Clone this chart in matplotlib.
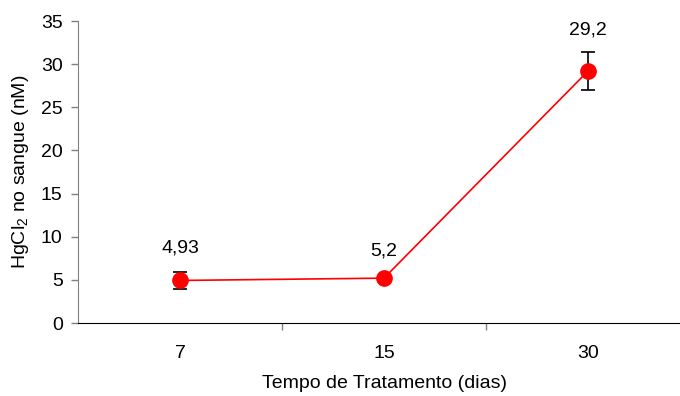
import matplotlib
matplotlib.use("Agg")
import matplotlib.pyplot as plt
import numpy as np

plt.rcParams['font.family'] = ['Liberation Sans', 'DejaVu Sans']
plt.rcParams['mathtext.fontset'] = 'custom'
plt.rcParams['mathtext.rm'] = 'Liberation Sans'
plt.rcParams['mathtext.it'] = 'Liberation Sans'

# Treatment time (days) and blood HgCl2 concentration (nM)
dias = ['7', '15', '30']
concentracao = [4.93, 5.2, 29.2]
erro = [1.0, 0.3, 2.15]
rotulos = ['4,93', '5,2', '29,2']

FS = 14

fig = plt.figure(figsize=(6.8, 3.96), dpi=100)
ax = fig.add_axes([78/680, 73/396, 612/680, 302/396])

x = np.arange(len(dias))
ax.errorbar(x, concentracao, yerr=erro, fmt='none', ecolor='black',
            elinewidth=1.2, capsize=5, capthick=1.2, zorder=2)
ax.plot(x, concentracao, color='#ff0000', lw=1.2, marker='o', ms=11,
        markerfacecolor='#ff0000', markeredgecolor='#ff0000', zorder=3)

# value labels sit above each point, pushed up a bit further by its error bar
for xi, yi, ei, txt in zip(x, concentracao, erro, rotulos):
    ax.annotate(txt, (xi, yi + 0.9 * ei), xytext=(0, 14.5),
                textcoords='offset points', ha='center', va='baseline',
                fontsize=FS)

ax.set_xlim(-0.5, len(dias) - 0.5)
ax.set_ylim(0, 35)
ax.set_yticks(np.arange(0, 36, 5))
ax.set_xticks(x)
ax.set_xticklabels(dias)
ax.set_xticks(np.arange(0.5, len(dias) - 0.5, 1), minor=True)

ax.tick_params(axis='y', direction='out', length=5, width=1, colors='#808080',
               labelcolor='black', labelsize=FS, pad=6)
ax.tick_params(axis='x', which='major', length=0, labelsize=FS, pad=16)
ax.tick_params(axis='x', which='minor', direction='out', length=5, width=1,
               color='#808080')

for s in ['top', 'right']:
    ax.spines[s].set_visible(False)
ax.spines['left'].set_color('#808080')
ax.spines['bottom'].set_color('black')

ax.set_ylabel('HgCl$_2$ no sangue (nM)', fontsize=FS)
ax.yaxis.set_label_coords(-47/612, 0.5)
ax.set_xlabel('Tempo de Tratamento (dias)', fontsize=FS)
ax.xaxis.set_label_coords(0.5, -52/302)

fig.savefig('out.png', dpi=100)
